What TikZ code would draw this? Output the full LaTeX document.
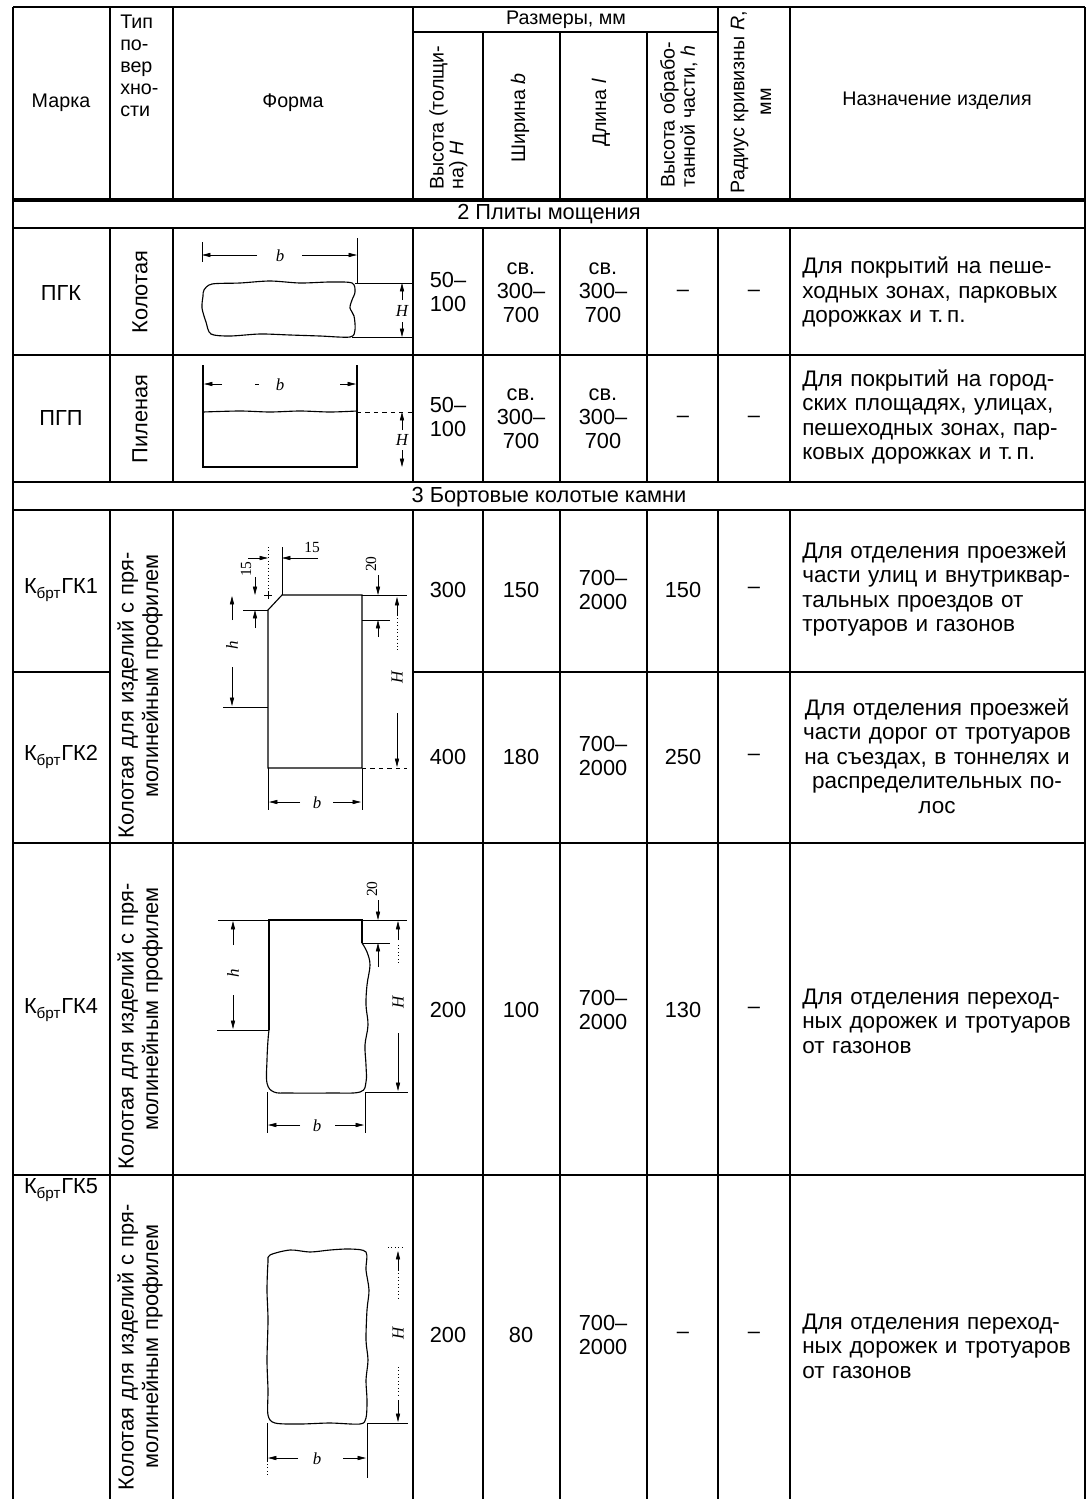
\documentclass[tikz,border=0pt]{standalone}
\usepackage{fontspec}
\setmainfont{Liberation Sans}
\newfontfamily\drawfont{Liberation Serif}
\usetikzlibrary{arrows.meta}

% justified line of a cell
\newcommand\jl[1]{\makebox[\linewidth][s]{#1}\\}

\tikzset{
  tabframe/.style={line width=1.8pt},
  tabrule/.style={line width=1.1pt},
  tabthin/.style={line width=0.8pt},
  tabheavy/.style={line width=3.2pt},
  stone/.style={line width=0.8pt},
  dimln/.style={line width=0.45pt},
  dimarr/.style={dimln, -{Triangle[length=6pt,width=3pt]}},
  cell/.style={inner sep=0pt, align=center},
  vcell/.style={cell, rotate=90},
  head/.style={font=\fontsize{14}{17}\selectfont},
  longtext/.style={font=\fontsize{16}{17.5}\selectfont},
  typetext/.style={font=\fontsize{15.5}{17.5}\selectfont},
  purpose/.style={longtext, inner sep=0pt, anchor=west, text width=6.8cm, align=left},
  dimlbl/.style={inner sep=0pt, font=\drawfont\itshape\fontsize{12}{12}\selectfont},
  dimnum/.style={inner sep=0pt, font=\drawfont\fontsize{11}{11}\selectfont},
}

\begin{document}
\begin{tikzpicture}[x=0.025cm, y=-0.025cm, font=\fontsize{15.5}{17}\selectfont]
  \useasboundingbox (0,0) rectangle (1089,1499);

  % table lines
  \draw[tabrule] (13,7) -- (1085,7);
  \draw[tabthin] (413,32) -- (718,32);
  \draw[tabheavy] (13,200) -- (1085,200);
  \draw[tabrule] (13,228) -- (1085,228);
  \draw[tabframe] (13,355) -- (1085,355);
  \draw[tabrule] (13,482) -- (1085,482);
  \draw[tabframe] (13,510) -- (1085,510);
  \draw[tabthin] (13,672) -- (110,672);
  \draw[tabthin] (413,672) -- (1085,672);
  \draw[tabframe] (13,843) -- (1085,843);
  \draw[tabframe] (13,1175) -- (1085,1175);

  \draw[tabframe] (13,7) -- (13,1499);
  \draw[tabrule] (1085,7) -- (1085,1499);
  \draw[tabframe] (110,7) -- (110,200) (110,228) -- (110,482) (110,510) -- (110,1499);
  \draw[tabrule] (173,7) -- (173,200) (173,228) -- (173,482) (173,510) -- (173,1499);
  \draw[tabframe] (413,7) -- (413,200) (413,228) -- (413,482) (413,510) -- (413,1499);
  \draw[tabthin] (483,32) -- (483,200) (483,228) -- (483,482) (483,510) -- (483,1499);
  \draw[tabframe] (560,32) -- (560,200) (560,228) -- (560,482) (560,510) -- (560,1499);
  \draw[tabthin] (647,32) -- (647,200) (647,228) -- (647,482) (647,510) -- (647,1499);
  \draw[tabthin] (718,7) -- (718,200) (718,228) -- (718,482) (718,510) -- (718,1499);
  \draw[tabframe] (790,7) -- (790,200) (790,228) -- (790,482) (790,510) -- (790,1499);

  % header
  \node[cell, head] (hmark) at (61,103) {Марка};
  \node[cell, anchor=north west, align=left, font=\fontsize{14}{15.5}\selectfont] (htype) at (120,15) {Тип\\по-\\вер\\хно-\\сти};
  \node[cell, head] (hform) at (293,103) {Форма};
  \node[cell, head] (hsize) at (566,20) {Размеры, мм};
  \node[vcell, anchor=north west, align=left, font=\fontsize{14}{11.5}\selectfont] (hheight) at (429,190) {Высота (толщи-\\на) \textit{H}};
  \node[vcell, head] (hwidth) at (520,118) {Ширина \textit{b}};
  \node[vcell, head] (hlength) at (601,113) {Длина \textit{l}};
  \node[vcell, anchor=north west, align=left, font=\fontsize{14}{12.5}\selectfont] (hproc) at (660,188) {Высота обрабо-\\танной части, \textit{h}};
  \node[vcell, font=\fontsize{14}{19}\selectfont] (hradius) at (751,102) {Радиус кривизны \textit{R},\\мм};
  \node[cell, head] (hpurpose) at (937,101) {Назначение изделия};

  % sections
  \node[cell] (sec2) at (549,214) {2 Плиты мощения};
  \node[cell] (sec3) at (549,497) {3 Бортовые колотые камни};

  % row PGK
  \node[cell] (pgk) at (61,293) {ПГК};
  \node[vcell] (pgktype) at (140,292) {Колотая};
  \node[cell] (pgkH) at (448,292) {50–\\100};
  \node[cell] (pgkb) at (521,293) {св.\\300–\\700};
  \node[cell] (pgkl) at (603,293) {св.\\300–\\700};
  \node[cell] (pgkh) at (683,293) {–};
  \node[cell] (pgkR) at (754,293) {–};
  \node[purpose] (pgkuse) at (802,292) {\jl{Для покрытий на пеше-}\jl{ходных зонах, парковых}дорожках и т.\,п.};

  % row PGP
  \node[cell] (pgp) at (61,418) {ПГП};
  \node[vcell] (pgptype) at (140,419) {Пиленая};
  \node[cell] (pgpH) at (448,417) {50–\\100};
  \node[cell] (pgpb) at (521,419) {св.\\300–\\700};
  \node[cell] (pgpl) at (603,419) {св.\\300–\\700};
  \node[cell] (pgph) at (683,419) {–};
  \node[cell] (pgpR) at (754,419) {–};
  \node[purpose] (pgpuse) at (802,417) {\jl{Для покрытий на город-}\jl{ских площадях, улицах,}\jl{пешеходных зонах, пар-}ковых дорожках и т.\,п.};

  % rows GK1, GK2
  \node[cell] (gk1) at (61,590) {К\textsubscript{брт}ГК1};
  \node[cell] (gk2) at (61,757) {К\textsubscript{брт}ГК2};
  \node[vcell, typetext, text width=8.1cm] (gk12type) at (140,676) {\jl{Колотая для изделий с пря-}молинейным профилем};
  \node[cell] (gk1H) at (448,590) {300};
  \node[cell] (gk1b) at (521,590) {150};
  \node[cell] (gk1l) at (603,590) {700–\\2000};
  \node[cell] (gk1h) at (683,590) {150};
  \node[cell] (gk1R) at (754,590) {–};
  \node[purpose] (gk1use) at (802,589) {\jl{Для отделения проезжей}\jl{части улиц и внутриквар-}\jl{тальных проездов от}тротуаров и газонов};
  \node[cell] (gk2H) at (448,757) {400};
  \node[cell] (gk2b) at (521,757) {180};
  \node[cell] (gk2l) at (603,756) {700–\\2000};
  \node[cell] (gk2h) at (683,757) {250};
  \node[cell] (gk2R) at (754,757) {–};
  \node[cell, longtext, text width=6.8cm] (gk2use) at (937,756) {Для отделения проезжей\\части дорог от тротуаров\\на съездах, в тоннелях и\\распределительных по-\\лос};

  % row GK4
  \node[cell] (gk4) at (61,1010) {К\textsubscript{брт}ГК4};
  \node[vcell, typetext, text width=8cm] (gk4type) at (140,1009) {\jl{Колотая для изделий с пря-}молинейным профилем};
  \node[cell] (gk4H) at (448,1010) {200};
  \node[cell] (gk4b) at (521,1010) {100};
  \node[cell] (gk4l) at (603,1010) {700–\\2000};
  \node[cell] (gk4h) at (683,1010) {130};
  \node[cell] (gk4R) at (754,1010) {–};
  \node[purpose] (gk4use) at (802,1021) {\jl{Для отделения переход-}\jl{ных дорожек и тротуаров}от газонов};

  % row GK5
  \node[cell] (gk5) at (61,1190) {К\textsubscript{брт}ГК5};
  \node[vcell, typetext, text width=7.4cm] (gk5type) at (140,1342) {\jl{Колотая для изделий с пря-}\makebox[6.3cm][s]{молинейным профилем}};
  \node[cell] (gk5H) at (448,1335) {200};
  \node[cell] (gk5b) at (521,1335) {80};
  \node[cell] (gk5l) at (603,1335) {700–\\2000};
  \node[cell] (gk5h) at (683,1335) {–};
  \node[cell] (gk5R) at (754,1335) {–};
  \node[purpose] (gk5use) at (802,1346) {\jl{Для отделения переход-}\jl{ных дорожек и тротуаров}от газонов};

  % PGK slab
  \draw[stone] plot[smooth cycle, tension=0.5] coordinates {(204,290) (212,284) (240,283) (270,281) (300,283) (330,282) (352,283) (355,292) (352,300) (350,308) (354,316) (355,330) (350,337) (320,336) (290,335) (260,334) (230,336) (211,334) (206,322) (202,308) (203,296)};
  \draw[dimln] (357,238) -- (357,284);
  \draw[dimln] (202,242) -- (202,262);
  \draw[dimarr] (257,255) -- (202,255);
  \draw[dimarr] (302,255) -- (357,255);
  \node[dimlbl] (pgkbl) at (280,256) {b};
  \draw[dimln] (355,283) -- (413,283);
  \draw[dimln] (352,337) -- (413,337);
  \draw[dimarr] (402,300) -- (402,283);
  \draw[dimarr] (402,322) -- (402,337);
  \node[dimlbl] (pgkHl) at (402,311) {H};

  % PGP slab
  \draw[stone] (203,365) -- (203,467) -- (357,467) -- (357,365);
  \draw[stone] plot[smooth] coordinates {(203,412) (240,411) (270,412) (300,411) (330,412) (357,411)};
  \draw[dimarr] (222,384) -- (204,384);
  \draw[dimarr] (340,384) -- (356,384);
  \draw[dimln] (255,384) -- (259,384);
  \node[dimlbl] (pgpbl) at (280,385) {b};
  \draw[dimln, dashed] (357,412) -- (413,412);
  \draw[dimarr] (402,430) -- (402,412);
  \draw[dimarr] (402,450) -- (402,467);
  \node[dimlbl] (pgpHl) at (402,440) {H};

  % GK1, GK2 curb
  \draw[stone] (268,768) -- (268,610) -- (282,595) -- (362,595) -- (362,768) -- cycle;
  \draw[dimln] (223,707) -- (268,707);
  \draw[dimln] (243,610) -- (268,610);
  \draw[dimln, dotted] (268,547) -- (268,595);
  \draw[dimln] (282,547) -- (282,595);
  \draw[dimln] (264,595) -- (272,595) (268,591) -- (268,599);
  \draw[dimarr] (248,558) -- (268,558);
  \draw[dimarr] (318,558) -- (282,558);
  \node[dimnum] (gk1c1) at (312,547) {15};
  \draw[dimarr] (255,577) -- (255,595);
  \draw[dimarr] (255,628) -- (255,610);
  \node[dimnum, rotate=90] (gk1c2) at (246,569) {15};
  \draw[dimln] (362,595) -- (407,595);
  \draw[dimln] (362,620) -- (390,620);
  \draw[dimln, dashed] (362,768) -- (407,768);
  \draw[dimarr] (378,575) -- (378,595);
  \draw[dimarr] (378,637) -- (378,620);
  \node[dimnum, rotate=90] (gk1c3) at (371,564) {20};
  \draw[dimarr] (397,615) -- (397,597);
  \draw[dimln, dotted] (397,615) -- (397,650);
  \node[dimlbl, rotate=90] (gk1Hl) at (397,677) {H};
  \draw[dimarr] (397,713) -- (397,767);
  \draw[dimarr] (232,620) -- (232,596);
  \node[dimlbl, rotate=90] (gk1hl) at (232,645) {h};
  \draw[dimarr] (232,667) -- (232,706);
  \draw[dimln] (268,768) -- (268,810);
  \draw[dimln] (362,768) -- (362,810);
  \draw[dimarr] (300,802) -- (269,802);
  \draw[dimarr] (333,802) -- (361,802);
  \node[dimlbl] (gk1bl) at (317,803) {b};

  % GK4 curb
  \draw[stone] (269,1030) -- (269,920) -- (362,920) -- (362,943);
  \draw[stone] plot[smooth, tension=0.6] coordinates {(362,943) (367,952) (370,965) (367,985) (366,1005) (368,1025) (365,1045) (366,1065) (366,1082) (360,1092) (330,1093) (290,1093) (274,1092) (267,1083) (267,1060) (268,1040) (269,1030)};
  \draw[dimln] (218,920) -- (269,920);
  \draw[dimln] (217,1030) -- (269,1030);
  \draw[dimln] (362,920) -- (407,920);
  \draw[dimln] (362,943) -- (390,943);
  \draw[dimln] (365,1092) -- (408,1092);
  \draw[dimarr] (233,945) -- (233,921);
  \node[dimlbl, rotate=90] (gk4hl) at (233,973) {h};
  \draw[dimarr] (233,995) -- (233,1029);
  \draw[dimarr] (378,900) -- (378,920);
  \draw[dimarr] (378,967) -- (378,943);
  \node[dimnum, rotate=90] (gk4c) at (372,889) {20};
  \draw[dimarr] (398,940) -- (398,921);
  \draw[dimln, dotted] (398,945) -- (398,965);
  \node[dimlbl, rotate=90] (gk4Hl) at (398,1002) {H};
  \draw[dimarr] (398,1033) -- (398,1091);
  \draw[dimln] (267,1092) -- (267,1133);
  \draw[dimln] (365,1092) -- (365,1133);
  \draw[dimarr] (300,1125) -- (268,1125);
  \draw[dimarr] (335,1125) -- (364,1125);
  \node[dimlbl] (gk4bl) at (317,1126) {b};

  % GK5 curb
  \draw[stone] plot[smooth cycle, tension=0.5] coordinates {(270,1255) (290,1250) (310,1252) (330,1250) (350,1249) (366,1252) (366,1270) (369,1290) (367,1310) (366,1340) (368,1360) (366,1380) (367,1400) (366,1418) (360,1424) (330,1423) (300,1424) (275,1423) (268,1415) (268,1390) (267,1360) (268,1320) (267,1290) (268,1262)};
  \draw[dimln, dotted] (388,1247) -- (404,1247);
  \draw[dimarr] (398,1270) -- (398,1251);
  \draw[dimln, dotted] (398,1270) -- (398,1300);
  \node[dimlbl, rotate=90] (gk5Hl) at (398,1333) {H};
  \draw[dimln, dotted] (398,1367) -- (398,1395);
  \draw[dimarr] (398,1400) -- (398,1422);
  \draw[dimln] (367,1423) -- (408,1423);
  \draw[dimln] (367,1423) -- (367,1478);
  \draw[dimln] (267,1423) -- (267,1462);
  \draw[dimln, dotted] (267,1464) -- (267,1475);
  \draw[dimarr] (298,1458) -- (268,1458);
  \draw[dimarr] (343,1458) -- (366,1458);
  \node[dimlbl] (gk5bl) at (317,1459) {b};
\end{tikzpicture}
\end{document}
